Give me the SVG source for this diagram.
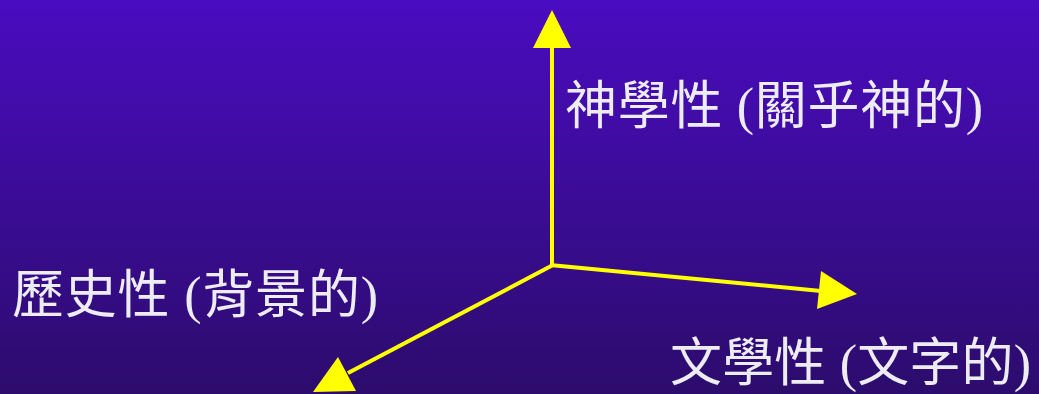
<svg xmlns="http://www.w3.org/2000/svg" width="1039" height="394" viewBox="0 0 1039 394">
  <defs>
    <linearGradient id="bg" x1="0" y1="0" x2="0" y2="1">
      <stop offset="0" stop-color="#4a0cc0"/>
      <stop offset="1" stop-color="#2c0c6c"/>
    </linearGradient>
    <style>
      .axis { stroke: #ffff00; stroke-width: 4; fill: none; }
      .head { fill: #ffff00; stroke: none; }
      .label { font-family: "Liberation Serif", "Noto Sans CJK TC", serif; font-size: 52px; fill: #ececf2; }
    </style>
  </defs>
  <rect x="0" y="0" width="1039" height="394" fill="url(#bg)"/>
  <g id="connectors">
    <line class="axis" x1="552" y1="266" x2="552" y2="46"/>
    <polygon class="head" points="552,10 533,48 571,48"/>
    <line class="axis" x1="550" y1="265" x2="821" y2="291"/>
    <polygon class="head" points="857,294 821,271 817,309"/>
    <line class="axis" x1="553" y1="265" x2="348" y2="373"/>
    <polygon class="head" points="313,392 338,357 356,391"/>
  </g>
  <g id="node-theological">
    <text class="label" x="565" y="124" textLength="418" lengthAdjust="spacing">神學性 (關乎神的)</text>
  </g>
  <g id="node-historical">
    <text class="label" x="12" y="313" textLength="366" lengthAdjust="spacing">歷史性 (背景的)</text>
  </g>
  <g id="node-literary">
    <text class="label" x="670" y="381" textLength="361" lengthAdjust="spacing">文學性 (文字的)</text>
  </g>
</svg>
